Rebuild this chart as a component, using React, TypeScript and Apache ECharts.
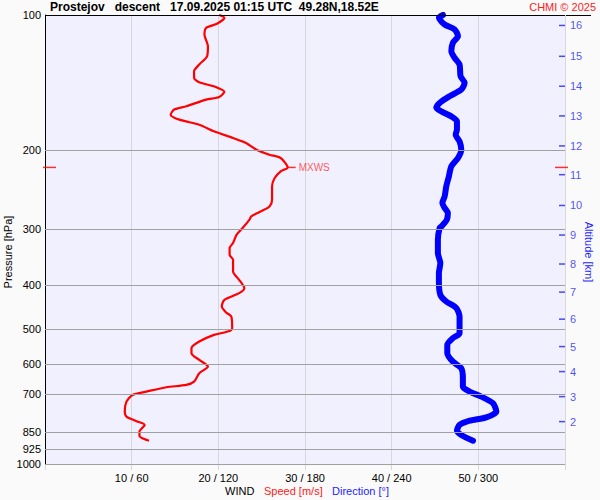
import React, { useEffect, useRef } from "react";
import * as echarts from "echarts";

// Pressure levels with grid lines (hPa)
const pressureTicks = [100, 200, 300, 400, 500, 600, 700, 850, 925, 1000];
// Speed axis ticks (m/s); direction = speed * 6
const speedTicks = [10, 20, 30, 40, 50];

// Wind speed profile
const speedPressure = [100, 101.4, 104.5, 106.8, 110.5, 117.4, 123.6, 128.9, 133.5, 138.1, 141.2, 144.6, 148.3, 152.2, 154.3, 159.7, 162.4, 166.7, 171.0, 175.5, 181.6, 187.9, 192.8, 199.5, 204.7, 208.2, 218.5, 223.0, 230.7, 240.8, 257.8, 266.9, 273.8, 280.9, 285.7, 298.2, 308.7, 322.0, 330.4, 342.0, 351.0, 372.6, 388.8, 405.8, 416.3, 430.9, 446.0, 459.9, 469.5, 498.2, 507.0, 515.7, 533.7, 552.1, 566.4, 586.3, 606.9, 627.8, 655.5, 666.7, 674.6, 690.0, 701.8, 726.3, 764.6, 784.5, 802.0, 818.6, 847.3, 866.2, 887.4];
const speedValues = [20.1, 20.7, 19.9, 18.6, 18.4, 18.8, 18.7, 17.8, 17.2, 17.2, 17.8, 19.7, 20.7, 20.1, 18.6, 16.3, 14.9, 14.5, 15.5, 17.8, 19.5, 21.7, 23.2, 24.4, 25.9, 27.2, 28.0, 27.2, 26.5, 26.2, 26.2, 25.9, 24.9, 23.8, 23.6, 22.8, 22.1, 21.7, 21.3, 21.3, 21.7, 21.7, 22.4, 23.0, 22.4, 20.7, 20.4, 20.9, 21.5, 21.6, 21.1, 19.5, 17.8, 16.9, 16.9, 17.8, 18.8, 17.8, 17.2, 16.3, 14.0, 11.7, 10.1, 9.4, 9.2, 9.4, 10.5, 11.5, 10.9, 10.9, 12.0];

// Wind direction profile
const dirPressure = [100, 101.4, 105.0, 107.7, 111.5, 115.3, 120.4, 124.6, 128.9, 136.9, 141.6, 146.6, 151.7, 157.0, 161.0, 163.9, 168.2, 172.5, 180.0, 184.7, 191.2, 199.5, 208.2, 217.4, 228.8, 240.8, 253.5, 262.3, 269.1, 276.1, 285.7, 295.8, 298.2, 316.6, 339.0, 356.9, 375.7, 392.2, 420.0, 434.6, 449.6, 469.5, 511.2, 524.4, 542.9, 566.4, 591.6, 611.9, 644.1, 672.5, 690.0, 707.9, 732.3, 764.6, 787.0, 800.8, 818.6, 842.9, 861.8, 887.4];
const dirValues = [275.5, 272.7, 276.7, 283.6, 285.9, 282.4, 281.3, 283.6, 287.0, 287.7, 290.5, 288.2, 280.1, 273.2, 270.9, 274.4, 281.3, 285.2, 285.2, 284.3, 287.0, 288.2, 285.9, 281.3, 279.6, 277.8, 276.7, 275.1, 276.7, 278.9, 278.2, 274.4, 273.2, 272.0, 272.0, 273.7, 272.7, 272.7, 273.7, 277.8, 284.8, 287.0, 287.0, 282.4, 278.5, 278.5, 282.4, 288.2, 289.3, 289.3, 294.0, 302.1, 310.1, 312.5, 305.5, 294.0, 287.0, 285.2, 288.2, 296.3];

// Altitude ticks (km) and their pressure level (hPa)
const altitudeKm = [2, 3, 4, 5, 6, 7, 8, 9, 10, 11, 12, 13, 14, 15, 16];
const altitudePressure = [804.7, 707.9, 622.6, 547.6, 475.8, 414.2, 358.6, 309.1, 265.6, 226.8, 195.7, 167.8, 144.1, 123.6, 105.5];

// Max wind
const mxwsSpeed = 28.0;
const mxwsPressure = 218.5;

const FONT = "'Liberation Sans', Arial, sans-serif";
const BLUE_TXT = "#1f1fff";

export default function App() {
  const ref = useRef<HTMLDivElement>(null);
  useEffect(() => {
    if (!ref.current) return;
    const chart = echarts.init(ref.current, null, { renderer: "svg" });
    const option: any = {
      animation: false,
      backgroundColor: "#fafafa",
      textStyle: { fontFamily: FONT },
      grid: {
        left: 45,
        right: 35,
        top: 15,
        bottom: 36,
        show: true,
        backgroundColor: "#f0f0ff",
        borderWidth: 0,
      },
      xAxis: [
        {
          type: "value",
          min: 0,
          max: 60,
          interval: 10,
          axisLine: { show: false },
          axisTick: { show: true, length: 6, lineStyle: { color: "#d8d8d8" } },
          splitLine: { show: true, lineStyle: { color: "#d8d8d8", width: 1 } },
          axisLabel: {
            margin: 8,
            fontSize: 11,
            color: "#000",
            fontFamily: FONT,
            formatter: (v: number) => (speedTicks.indexOf(v) >= 0 ? `${v} / ${v * 6}` : ""),
          },
        },
        {
          type: "value",
          min: 0,
          max: 360,
          show: false,
        },
      ],
      yAxis: {
        type: "log",
        logBase: 10,
        min: 100,
        max: 1000,
        inverse: true,
        axisLine: { show: true, lineStyle: { color: "#000", width: 1 } },
        axisTick: { show: false },
        axisLabel: { show: false },
        splitLine: { show: false },
      },
      graphic: [
        {
          type: "text",
          left: 50,
          top: 1,
          style: {
            text: "Prostejov   descent   17.09.2025 01:15 UTC  49.28N,18.52E",
            font: `bold 12px ${FONT}`,
            fill: "#000",
          },
        },
        {
          type: "text",
          right: 4,
          top: 1,
          style: { text: "CHMI © 2025", font: `11px ${FONT}`, fill: "#ff2020" },
        },
        {
          type: "line",
          shape: { x1: 45, y1: 15.5, x2: 591, y2: 15.5 },
          style: { stroke: "#000", lineWidth: 1 },
        },
        {
          type: "line",
          shape: { x1: 45.5, y1: 464, x2: 45.5, y2: 469 },
          style: { stroke: "#000", lineWidth: 1 },
        },
        {
          type: "text",
          x: 7.5,
          y: 252,
          rotation: Math.PI / 2,
          style: {
            text: "Pressure [hPa]",
            font: `11px ${FONT}`,
            fill: "#000",
            align: "center",
            verticalAlign: "middle",
          },
        },
        {
          type: "text",
          x: 589,
          y: 252,
          rotation: -Math.PI / 2,
          style: {
            text: "Altitude [km]",
            font: `11px ${FONT}`,
            fill: BLUE_TXT,
            align: "center",
            verticalAlign: "middle",
          },
        },
        {
          type: "text",
          x: 225,
          y: 491,
          style: { text: "WIND", font: `11px ${FONT}`, fill: "#000", verticalAlign: "middle" },
        },
        {
          type: "text",
          x: 264,
          y: 491,
          style: { text: "Speed [m/s]", font: `11px ${FONT}`, fill: "#ff2020", verticalAlign: "middle" },
        },
        {
          type: "text",
          x: 332,
          y: 491,
          style: { text: "Direction [°]", font: `11px ${FONT}`, fill: BLUE_TXT, verticalAlign: "middle" },
        },
      ],
      series: [
        {
          type: "line",
          name: "grid",
          data: [],
          markLine: {
            silent: true,
            symbol: "none",
            animation: false,
            lineStyle: { color: "#a0a0a0", width: 1, type: "solid" },
            label: {
              position: "start",
              distance: 4,
              fontSize: 11,
              color: "#000",
              fontFamily: FONT,
              formatter: (p: any) => String(p.value),
            },
            data: pressureTicks.map((p) =>
              p === 100
                ? { yAxis: p, lineStyle: { color: "#000", width: 1, type: "solid" } }
                : { yAxis: p }
            ),
          },
        },
        {
          type: "line",
          name: "Direction",
          xAxisIndex: 1,
          data: dirPressure.map((p, i) => [dirValues[i], p]),
          showSymbol: false,
          symbol: "none",
          smooth: 0.25,
          lineStyle: { color: "#0000ff", width: 6, cap: "round", join: "round" },
          z: 3,
        },
        {
          type: "line",
          name: "Speed",
          data: speedPressure.map((p, i) => [speedValues[i], p]),
          showSymbol: false,
          symbol: "none",
          smooth: 0.25,
          lineStyle: { color: "#ff0000", width: 2.2, join: "round" },
          z: 4,
        },
        {
          type: "scatter",
          name: "altitude",
          clip: false,
          data: altitudePressure.map((p, i) => [60, p, altitudeKm[i]]),
          symbol: "rect",
          symbolSize: [6, 1.5],
          symbolOffset: [-3, 0],
          itemStyle: { color: BLUE_TXT },
          label: {
            show: true,
            position: "right",
            distance: 5,
            fontSize: 11,
            color: BLUE_TXT,
            fontFamily: FONT,
            formatter: (p: any) => String(p.value[2]),
          },
          z: 5,
        },
        {
          type: "scatter",
          name: "mxwsTicks",
          clip: false,
          data: [
            { value: [0, mxwsPressure], symbolOffset: [4.5, 0] },
            { value: [60, mxwsPressure], symbolOffset: [-3.5, 0] },
          ],
          symbol: "rect",
          symbolSize: [13, 1.5],
          itemStyle: { color: "#ff0000" },
          z: 5,
        },
        {
          type: "scatter",
          name: "mxws",
          clip: false,
          data: [[mxwsSpeed, mxwsPressure]],
          symbol: "rect",
          symbolSize: [8, 1.5],
          symbolOffset: [4, 0],
          itemStyle: { color: "#ff0000" },
          label: {
            show: true,
            position: "right",
            distance: 3,
            fontSize: 10,
            color: "#ff3030",
            fontFamily: FONT,
            formatter: "MXWS",
          },
          z: 6,
        },
      ],
    };
    chart.setOption(option);
    return () => chart.dispose();
  }, []);
  return (
    <div
      ref={ref}
      style={{ position: "fixed", left: 0, top: 0, width: 600, height: 500, background: "#fafafa" }}
    />
  );
}
